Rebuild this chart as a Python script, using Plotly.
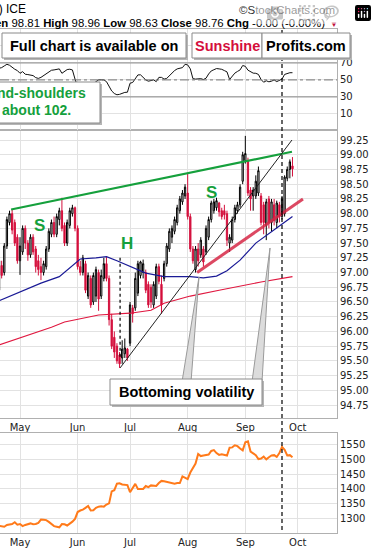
import pandas as pd
import plotly.graph_objects as go

# ---------------- data ----------------
HOLIDAYS = ["2019-04-19", "2019-05-27", "2019-07-04", "2019-09-02"]
DATES = [d for d in pd.bdate_range("2019-04-18", "2019-09-27") if d.strftime("%Y-%m-%d") not in HOLIDAYS]

OPEN = [96.70, 97.12, 97.00, 97.45, 97.85, 98.00, 97.85, 97.60, 97.20, 97.35, 97.75, 97.50, 97.30, 97.60, 97.40, 97.20,
        97.10, 97.00, 97.10, 97.40, 97.65, 97.85, 97.65, 97.90, 98.05, 97.80, 97.50, 97.80, 98.00, 98.10, 97.75, 97.10,
        97.00, 97.15, 96.60, 96.90, 96.50, 96.60, 97.00, 96.60, 96.90, 97.15, 96.90, 96.20, 95.90, 95.75, 95.60, 95.55,
        95.62, 95.70, 95.80, 96.40, 96.40, 96.65, 96.95, 97.00, 97.00, 96.80, 96.75, 96.45, 96.60, 97.10, 96.80, 96.90,
        97.15, 97.40, 97.60, 97.70, 97.85, 98.05, 98.20, 98.30, 98.35, 97.95, 97.40, 97.05, 97.40, 97.30, 97.40, 97.35,
        97.60, 97.90, 98.05, 98.10, 98.18, 98.05, 98.05, 98.00, 97.50, 97.55, 97.90, 98.05, 98.15, 98.55, 98.90, 98.90,
        98.40, 98.30, 98.30, 98.35, 98.30, 98.15, 97.80, 98.25, 97.85, 98.15, 97.85, 98.15, 97.95, 98.00, 98.60, 98.75,
        98.81]
HIGH = [97.30, 97.20, 97.50, 97.95, 98.05, 98.07, 97.90, 97.65, 97.60, 97.80, 97.80, 97.55, 97.65, 97.65, 97.45, 97.30,
        97.25, 97.20, 97.45, 97.75, 97.90, 97.95, 98.00, 98.10, 98.27, 97.85, 97.90, 98.10, 98.15, 98.12, 97.80, 97.20,
        97.30, 97.20, 97.00, 96.95, 97.00, 97.10, 97.05, 97.05, 97.25, 97.27, 96.95, 96.30, 96.00, 95.80, 95.65, 95.85,
        95.88, 95.72, 96.50, 96.45, 97.00, 97.20, 97.20, 97.22, 97.05, 96.85, 96.80, 96.85, 97.15, 97.15, 96.95, 97.20,
        97.50, 97.75, 97.80, 97.95, 98.15, 98.30, 98.40, 98.50, 98.69, 98.00, 97.45, 97.45, 97.50, 97.60, 97.45, 97.80,
        97.95, 98.22, 98.25, 98.27, 98.20, 98.10, 98.15, 98.05, 97.65, 97.95, 98.15, 98.20, 98.50, 99.05, 99.32, 98.95,
        98.45, 98.45, 98.65, 98.80, 98.35, 98.20, 98.25, 98.30, 98.25, 98.25, 98.22, 98.20, 98.30, 98.65, 98.80, 98.92,
        98.96]
LOW = [96.60, 96.90, 96.95, 97.40, 97.80, 97.65, 97.45, 97.15, 96.96, 97.30, 97.40, 97.20, 97.25, 97.30, 97.00, 96.95,
       96.87, 96.95, 97.05, 97.35, 97.60, 97.60, 97.60, 97.80, 97.70, 97.45, 97.45, 97.75, 97.95, 97.70, 97.05, 96.95,
       96.95, 96.65, 96.55, 96.40, 96.45, 96.50, 96.35, 96.55, 96.85, 96.85, 96.10, 95.70, 95.55, 95.45, 95.38, 95.45,
       95.55, 95.50, 95.75, 96.15, 96.35, 96.60, 96.90, 96.90, 96.65, 96.40, 96.40, 96.40, 96.55, 96.80, 96.30, 96.85,
       97.10, 97.35, 97.50, 97.65, 97.80, 98.00, 98.15, 98.25, 97.90, 97.35, 97.15, 97.00, 97.10, 97.25, 97.10, 97.30,
       97.55, 97.85, 98.00, 98.05, 97.95, 97.90, 97.90, 97.45, 97.35, 97.50, 97.85, 98.00, 98.10, 98.50, 98.85, 98.30,
       98.05, 98.05, 98.25, 98.30, 97.80, 97.65, 97.55, 97.75, 97.70, 97.80, 97.75, 97.85, 97.90, 97.95, 98.55, 98.60,
       98.63]
CLOSE = [97.20, 96.95, 97.45, 97.90, 98.00, 97.72, 97.50, 97.20, 97.45, 97.75, 97.50, 97.30, 97.60, 97.35, 97.10, 97.05,
         97.00, 97.15, 97.40, 97.70, 97.85, 97.65, 97.95, 98.05, 97.75, 97.50, 97.85, 98.05, 98.10, 97.75, 97.10, 97.00,
         97.25, 96.70, 96.95, 96.45, 96.95, 97.05, 96.55, 96.95, 97.15, 96.90, 96.20, 95.75, 95.65, 95.50, 95.45, 95.70,
         95.72, 95.55, 96.45, 96.30, 96.90, 97.15, 97.18, 97.15, 96.70, 96.45, 96.50, 96.80, 97.10, 96.85, 96.45, 97.15,
         97.45, 97.70, 97.75, 97.90, 98.10, 98.25, 98.35, 98.45, 97.95, 97.40, 97.20, 97.40, 97.20, 97.55, 97.18, 97.75,
         97.90, 98.18, 98.20, 98.22, 98.03, 97.95, 97.98, 97.55, 97.60, 97.90, 98.10, 98.15, 98.45, 99.00, 99.02, 98.35,
         98.25, 98.40, 98.55, 98.73, 97.85, 97.85, 98.20, 97.85, 98.20, 97.88, 98.18, 97.95, 98.25, 98.62, 98.75, 98.88,
         98.76]

RSI = [63.7, 64.5, 66.5, 68.4, 67.3, 64.5, 62.6, 61.0, 57.8, 59.8, 56.7, 56.3, 55.9, 55.1, 52.7, 51.8,
       53.0, 55.1, 57.4, 59.8, 61.4, 61.8, 62.6, 63.0, 57.8, 60.6, 62.2, 62.6, 61.8, 51.0, 42.0, 40.0,
       45.0, 38.0, 42.0, 36.0, 45.0, 48.0, 50.0, 50.0, 50.0, 48.0, 42.0, 37.0, 34.0, 32.5, 33.0, 34.3,
       35.3, 35.5, 46.1, 47.0, 52.0, 55.9, 56.0, 53.0, 50.0, 48.5, 49.0, 50.0, 48.0, 53.0, 53.0, 51.0,
       51.8, 55.0, 58.0, 61.0, 63.0, 63.7, 64.5, 68.4, 67.7, 63.0, 51.5, 51.0, 51.2, 51.5, 50.5, 52.0,
       57.0, 60.6, 62.0, 63.4, 63.0, 62.5, 61.0, 59.5, 50.5, 55.0, 58.0, 60.0, 61.8, 67.0, 66.0, 61.5,
       59.8, 58.0, 57.8, 56.5, 50.5, 47.3, 49.0, 47.8, 48.5, 50.0, 48.0, 50.0, 51.0, 56.5, 57.8, 58.5,
       58.5]

GOLD = [1277, 1276, 1274, 1280, 1282, 1283, 1289, 1281, 1283, 1276, 1280, 1283, 1285, 1282, 1283, 1287,
        1298, 1297, 1296, 1290, 1283, 1276, 1274, 1272, 1283, 1282, 1278, 1284, 1291, 1300, 1323, 1328,
        1331, 1337, 1343, 1328, 1329, 1337, 1341, 1342, 1341, 1348, 1352, 1392, 1396, 1418, 1419, 1415,
        1414, 1413, 1389, 1405, 1417, 1400, 1399, 1400, 1410, 1406, 1412, 1412, 1410, 1420, 1427, 1426,
        1424, 1423, 1422, 1418, 1420, 1420, 1442, 1438, 1433, 1455, 1472, 1485, 1517, 1510, 1512, 1514,
        1515, 1527, 1530, 1520, 1514, 1516, 1514, 1512, 1538, 1539, 1546, 1543, 1535, 1529, 1556, 1559,
        1525, 1518, 1513, 1500, 1502, 1508, 1499, 1506, 1512, 1513, 1507, 1520, 1541, 1531, 1512, 1513,
        1506]

# moving averages read at selected sessions (session number, value)
MA50_IDX = [0, 8, 16, 23, 27, 31, 37, 41, 45, 51, 56, 63, 73, 78, 83, 87, 92, 98, 103, 107, 112]
MA50_VAL = [96.52, 96.67, 96.82, 96.93, 97.08, 97.23, 97.25, 97.27, 97.20, 97.08, 96.99, 96.93, 96.93, 96.91,
            96.94, 97.03, 97.21, 97.50, 97.67, 97.79, 97.95]
MA200_IDX = [0, 8, 20, 25, 38, 50, 58, 63, 73, 84, 100, 112]
MA200_VAL = [95.77, 95.89, 96.07, 96.16, 96.28, 96.31, 96.36, 96.48, 96.60, 96.70, 96.84, 96.93]

# hand-drawn annotation lines (session number, price)
GREEN_LINE = ([4.6, 111.8], [98.07, 99.05])
BLACK_LINE = ([46.2, 111.8], [95.38, 99.25])
RED_LINE = ([75.6, 116.0], [97.00, 98.25])
SHORT_DASH = ([46.2, 46.2], [97.25, 95.56])
MARK_SESSION = 108

MONTHS = ["May", "Jun", "Jul", "Aug", "Sep", "Oct"]
PRICE_TICKS = [94.75, 95.00, 95.25, 95.50, 95.75, 96.00, 96.25, 96.50, 96.75, 97.00, 97.25, 97.50, 97.75,
               98.00, 98.25, 98.50, 98.75, 99.00, 99.25]
RSI_TICKS = [10, 30, 50, 70]
GOLD_TICKS = [1300, 1350, 1400, 1450, 1500, 1550]

# ---------------- figure ----------------
IDX = list(range(len(DATES)))
month_idx = []
for m in [5, 6, 7, 8, 9]:
    month_idx.append(next(i for i, d in enumerate(DATES) if d.month == m))
month_idx.append(len(DATES) + 1)  # Oct 1 (after Sep 30)

W, H = 377, 550
PW = 337
def PX(x): return x / PW
def PY(y): return 1 - y / H

RED = "#d40f3c"
GREEN = "#15a03c"
GRID = "#e2e2e2"
AX = "#b0b0b0"
FONT = "DejaVu Sans"

fig = go.Figure()

fig.add_trace(go.Scatter(x=MA200_IDX, y=MA200_VAL, mode="lines", line=dict(color="#e0173f", width=1.1),
                         xaxis="x", yaxis="y", hoverinfo="skip"))
fig.add_trace(go.Scatter(x=MA50_IDX, y=MA50_VAL, mode="lines", line=dict(color="#1a1a96", width=1.2),
                         xaxis="x", yaxis="y", hoverinfo="skip"))
fig.add_trace(go.Candlestick(x=IDX, open=OPEN, high=HIGH, low=LOW, close=CLOSE, xaxis="x", yaxis="y",
                             increasing=dict(line=dict(color="black", width=1), fillcolor="white"),
                             decreasing=dict(line=dict(color=RED, width=1), fillcolor=RED),
                             whiskerwidth=0))
fig.add_trace(go.Scatter(x=GREEN_LINE[0], y=GREEN_LINE[1], mode="lines", line=dict(color=GREEN, width=2.2),
                         xaxis="x", yaxis="y"))
fig.add_trace(go.Scatter(x=BLACK_LINE[0], y=BLACK_LINE[1], mode="lines", line=dict(color="#222", width=1),
                         xaxis="x", yaxis="y"))
fig.add_trace(go.Scatter(x=RED_LINE[0], y=RED_LINE[1], mode="lines", line=dict(color="rgba(214,40,70,0.85)", width=3),
                         xaxis="x", yaxis="y"))
fig.add_trace(go.Scatter(x=SHORT_DASH[0], y=SHORT_DASH[1], mode="lines", line=dict(color="black", width=1.2, dash="3px,3px"),
                         xaxis="x", yaxis="y"))

fig.add_trace(go.Scatter(x=IDX, y=RSI, mode="lines", line=dict(color="#111", width=1), xaxis="x2", yaxis="y2"))
fig.add_trace(go.Scatter(x=IDX, y=GOLD, mode="lines", line=dict(color="#ff7a1a", width=2), xaxis="x3", yaxis="y3"))

xr = [8 - 20 / 2.62, 8 + 317 / 2.62]
xcommon = dict(range=xr, tickvals=month_idx, ticktext=MONTHS, showgrid=True, gridcolor=GRID, gridwidth=1,
               zeroline=False, showline=True, mirror=True, linecolor=AX, ticks="",
               tickfont=dict(family=FONT, size=10, color="#222"), fixedrange=True)
ycommon = dict(side="right", showgrid=True, gridcolor=GRID, zeroline=False, showline=True, mirror=True,
               linecolor=AX, ticks="", tickfont=dict(family=FONT, size=10, color="#222"), fixedrange=True)

fig.update_layout(
    width=W, height=H, margin=dict(l=0, r=W - PW, t=0, b=0),
    paper_bgcolor="white", plot_bgcolor="white", showlegend=False,
    xaxis=dict(xcommon, domain=[0, 1], anchor="y", rangeslider=dict(visible=False)),
    xaxis2=dict(xcommon, domain=[0, 1], anchor="y2", showticklabels=False),
    xaxis3=dict(xcommon, domain=[0, 1], anchor="y3"),
    yaxis=dict(ycommon, domain=[PY(418), PY(130)], range=[94.53, 99.42], tickvals=PRICE_TICKS,
               ticktext=["%.2f" % v for v in PRICE_TICKS], anchor="x"),
    yaxis2=dict(ycommon, domain=[PY(130), PY(29)], range=[-9, 110], tickvals=[10, 30, 50, 70, 90],
                ticktext=["10", "30", "50", "70", ""], anchor="x2"),
    yaxis3=dict(ycommon, domain=[PY(533), PY(433)], range=[1253, 1587], tickvals=GOLD_TICKS, anchor="x3"),
)

shapes = []
# RSI reference lines
for lvl in [30, 70]:
    shapes.append(dict(type="line", xref="x2 domain", yref="y2", x0=0, x1=1, y0=lvl, y1=lvl,
                       line=dict(color="#888", width=1)))
shapes.append(dict(type="line", xref="x2 domain", yref="y2", x0=0, x1=1, y0=50, y1=50,
                   line=dict(color="#777", width=1, dash="dashdot")))
# long dashed vertical marker
shapes.append(dict(type="line", xref="x", yref="paper", x0=MARK_SESSION, x1=MARK_SESSION, y0=PY(530), y1=PY(30),
                   line=dict(color="black", width=1.2, dash="4px,3px"), layer="above"))

# callout wedges
def wedge(tip, b0, b1):
    return dict(type="path", xref="paper", yref="paper", layer="above",
                path="M %f,%f L %f,%f L %f,%f Z" % (PX(b0[0]), PY(b0[1]), PX(tip[0]), PY(tip[1]), PX(b1[0]), PY(b1[1])),
                fillcolor="#dcdcdc", line=dict(color="#9a9a9a", width=1))
shapes.append(wedge((199, 277), (182, 382), (191, 382)))
shapes.append(wedge((270, 248), (252, 382), (262, 382)))

def box(x0, y0, x1, y1):
    return [dict(type="rect", xref="paper", yref="paper", layer="above", x0=PX(x0 + 2), x1=PX(x1 + 2),
                 y0=PY(y1 + 2), y1=PY(y0 + 2), fillcolor="#b5b5b5", line=dict(width=0)),
            dict(type="rect", xref="paper", yref="paper", layer="above", x0=PX(x0), x1=PX(x1),
                 y0=PY(y1), y1=PY(y0), fillcolor="white", line=dict(color="#8a8a8a", width=1))]
shapes += box(2, 33, 186, 58)
shapes += box(192, 33, 262, 58)
shapes += box(262, 33, 350, 58)
shapes += box(-20, 82, 100, 123)
shapes += box(110, 379, 262, 405)
fig.update_layout(shapes=shapes)

ARIAL = "Liberation Sans, Arial"
def ann(text, x, y, size, color="black", xanchor="center", family=ARIAL):
    return dict(text=text, x=PX(x), y=PY(y), xref="paper", yref="paper", xanchor=xanchor, yanchor="middle",
                showarrow=False, font=dict(family=family, size=size, color=color))

annotations = [
    ann("D) ICE", 28, 9, 12, xanchor="right"),
    ann("©StockCharts.com", 337, 10, 11.5, color="#333", xanchor="right"),
    ann("<b>en</b> 98.81 <b>High</b> 98.96 <b>Low</b> 98.63 <b>Close</b> 98.76 <b>Chg</b> -0.00 (-0.00%)",
        327, 23, 11.4, xanchor="right"),
    ann("▼", 334, 24, 8, color="#c0103a"),
    ann("<b>Full chart is available on</b>", 94, 46, 14.5),
    ann("<b>Sunshine</b>", 227, 46, 14.5, color=RED),
    ann("<b>Profits.com</b>", 306, 46, 14.5),
    ann("<b>nd-shoulders</b>", 88, 93, 14, color=GREEN, xanchor="right"),
    ann("<b>about 102.</b>", 73, 110, 14, color=GREEN, xanchor="right"),
    ann("<b>S</b>", 39, 225, 17, color=GREEN),
    ann("<b>H</b>", 127, 243, 17, color=GREEN),
    ann("<b>S</b>", 211, 193, 17, color=GREEN),
    ann("<b>Bottoming volatility</b>", 186, 392, 14.5),
]
fig.update_layout(annotations=annotations)

fig.write_html("out.html", post_script="document.body.style.margin='0';")
